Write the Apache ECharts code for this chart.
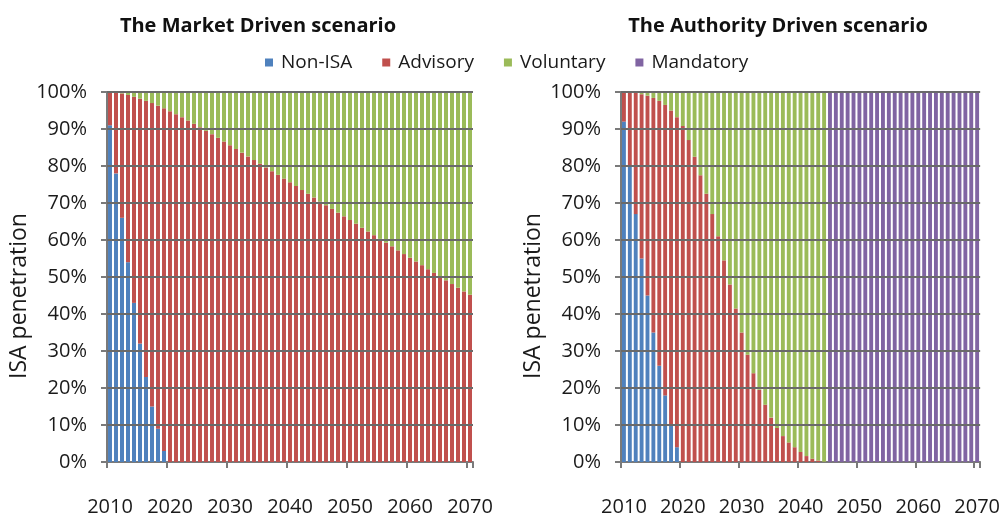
<!DOCTYPE html>
<html>
<head>
<meta charset="utf-8">
<script src="https://cdn.jsdelivr.net/npm/echarts@6/dist/echarts.min.js"></script>
<style>
  html, body { margin: 0; padding: 0; background: #fff; }
  #chartIsa { width: 1003px; height: 517px; }
</style>
</head>
<body>
<div id="chartIsa"></div>
<script>
// years on the x axis
var years = [
  '2010','2011','2012','2013','2014','2015','2016','2017','2018','2019',
  '2020','2021','2022','2023','2024','2025','2026','2027','2028','2029',
  '2030','2031','2032','2033','2034','2035','2036','2037','2038','2039',
  '2040','2041','2042','2043','2044','2045','2046','2047','2048','2049',
  '2050','2051','2052','2053','2054','2055','2056','2057','2058','2059',
  '2060','2061','2062','2063','2064','2065','2066','2067','2068','2069',
  '2070'
];
var legendNames = ['Non-ISA', 'Advisory', 'Voluntary', 'Mandatory'];
var yTicks = ['0%','10%','20%','30%','40%','50%','60%','70%','80%','90%','100%'];
var gridValues = [10, 20, 30, 40, 50, 60, 70, 80, 90, 100];

// The Market Driven scenario (percent of fleet)
var marketNonIsa = [
  91, 78, 66, 54, 43, 32, 23, 15, 9, 3,
  0, 0, 0, 0, 0, 0, 0, 0, 0, 0,
  0, 0, 0, 0, 0, 0, 0, 0, 0, 0,
  0, 0, 0, 0, 0, 0, 0, 0, 0, 0,
  0, 0, 0, 0, 0, 0, 0, 0, 0, 0,
  0, 0, 0, 0, 0, 0, 0, 0, 0, 0,
  0
];
var marketAdvisory = [
  9, 22, 33.6, 45.2, 55.7, 66.2, 74.6, 82, 87.3, 92.6,
  94.8, 94, 93.2, 92.3, 91.4, 90.5, 89.5, 88.6, 87.6, 86.6,
  85.6, 84.6, 83.6, 82.6, 81.6, 80.6, 79.6, 78.6, 77.6, 76.6,
  75.6, 74.6, 73.5, 72.5, 71.5, 70.4, 69.4, 68.4, 67.4, 66.4,
  65.4, 64.4, 63.3, 62.3, 61.3, 60.3, 59.3, 58.3, 57.2, 56.2,
  55.2, 54.2, 53.2, 52.1, 51.1, 50.1, 49.1, 48.1, 47.1, 46.1,
  45.2
];
var marketVoluntary = [
  0, 0, 0.4, 0.8, 1.3, 1.8, 2.4, 3, 3.7, 4.4,
  5.2, 6, 6.8, 7.7, 8.6, 9.5, 10.5, 11.4, 12.4, 13.4,
  14.4, 15.4, 16.4, 17.4, 18.4, 19.4, 20.4, 21.4, 22.4, 23.4,
  24.4, 25.4, 26.5, 27.5, 28.5, 29.6, 30.6, 31.6, 32.6, 33.6,
  34.6, 35.6, 36.7, 37.7, 38.7, 39.7, 40.7, 41.7, 42.8, 43.8,
  44.8, 45.8, 46.8, 47.9, 48.9, 49.9, 50.9, 51.9, 52.9, 53.9,
  54.8
];
var marketMandatory = [
  0, 0, 0, 0, 0, 0, 0, 0, 0, 0,
  0, 0, 0, 0, 0, 0, 0, 0, 0, 0,
  0, 0, 0, 0, 0, 0, 0, 0, 0, 0,
  0, 0, 0, 0, 0, 0, 0, 0, 0, 0,
  0, 0, 0, 0, 0, 0, 0, 0, 0, 0,
  0, 0, 0, 0, 0, 0, 0, 0, 0, 0,
  0
];

// The Authority Driven scenario
var authNonIsa = [
  92, 80, 67, 55, 45, 35, 26, 18, 10, 4,
  0, 0, 0, 0, 0, 0, 0, 0, 0, 0,
  0, 0, 0, 0, 0, 0, 0, 0, 0, 0,
  0, 0, 0, 0, 0, 0, 0, 0, 0, 0,
  0, 0, 0, 0, 0, 0, 0, 0, 0, 0,
  0, 0, 0, 0, 0, 0, 0, 0, 0, 0,
  0
];
var authAdvisory = [
  8, 20, 32.8, 44.4, 54, 63.4, 71.6, 78.5, 85, 89.2,
  90.8, 87, 82.5, 77.5, 72.5, 67, 61, 54.5, 48, 41.5,
  35, 29, 24, 19.5, 15.5, 12, 9.2, 7, 5.3, 4,
  2.7, 1.6, 0.9, 0.4, 0.1, 0, 0, 0, 0, 0,
  0, 0, 0, 0, 0, 0, 0, 0, 0, 0,
  0, 0, 0, 0, 0, 0, 0, 0, 0, 0,
  0
];
var authVoluntary = [
  0, 0, 0.2, 0.6, 1, 1.6, 2.4, 3.5, 5, 6.8,
  9.2, 13, 17.5, 22.5, 27.5, 33, 39, 45.5, 52, 58.5,
  65, 71, 76, 80.5, 84.5, 88, 90.8, 93, 94.7, 96,
  97.3, 98.4, 99.1, 99.6, 99.9, 0, 0, 0, 0, 0,
  0, 0, 0, 0, 0, 0, 0, 0, 0, 0,
  0, 0, 0, 0, 0, 0, 0, 0, 0, 0,
  0
];
var authMandatory = [
  0, 0, 0, 0, 0, 0, 0, 0, 0, 0,
  0, 0, 0, 0, 0, 0, 0, 0, 0, 0,
  0, 0, 0, 0, 0, 0, 0, 0, 0, 0,
  0, 0, 0, 0, 0, 100, 100, 100, 100, 100,
  100, 100, 100, 100, 100, 100, 100, 100, 100, 100,
  100, 100, 100, 100, 100, 100, 100, 100, 100, 100,
  100
];

var colors = ['#4F81BD', '#C0504D', '#9BBB59', '#8064A2'];
var fontName = '"Open Sans", "DejaVu Sans", sans-serif';
var axisGray = '#7A7A7A';
var gridGray = '#6A6A6A';

function makeX(gridIndex) {
  return {
    type: 'category',
    gridIndex: gridIndex,
    data: years,
    boundaryGap: true,
    axisLine: { show: true, lineStyle: { color: axisGray, width: 2 } },
    axisTick: { show: true, interval: 9, length: 6, lineStyle: { color: axisGray, width: 2 } },
    axisLabel: { interval: 9, margin: 35, color: '#1a1a1a', fontSize: 20, fontFamily: fontName },
    splitLine: { show: false }
  };
}

function makeY(gridIndex) {
  return {
    type: 'value',
    gridIndex: gridIndex,
    min: 0,
    max: 100,
    interval: 10,
    name: 'ISA penetration',
    nameLocation: 'middle',
    nameGap: 76,
    nameRotate: 90,
    nameTextStyle: { color: '#1a1a1a', fontSize: 23, fontFamily: fontName, padding: [0, 38, 0, 0] },
    axisLine: { show: true, lineStyle: { color: axisGray, width: 2 } },
    axisTick: { show: true, length: 6, lineStyle: { color: axisGray, width: 2 } },
    axisLabel: {
      margin: 20, color: '#1a1a1a', fontSize: 20, fontFamily: fontName,
      formatter: function (v) { return yTicks[Math.round(v / 10)]; }
    },
    splitLine: { show: true, lineStyle: { color: axisGray, width: 2 } }
  };
}

function makeBar(name, idx, data, colorIdx) {
  return {
    name: name,
    type: 'bar',
    z: 1,
    stack: 'isa' + idx,
    xAxisIndex: idx,
    yAxisIndex: idx,
    barCategoryGap: '34%',
    itemStyle: { color: colors[colorIdx] },
    data: data
  };
}

// gridlines in the reference sit on top of the bars:
// a custom series draws them last, through the axis scales
function gridOverlay(idx) {
  return {
    type: 'custom',
    xAxisIndex: idx,
    yAxisIndex: idx,
    z: 50,
    silent: true,
    clip: false,
    legendHoverLink: false,
    tooltip: { show: false },
    data: gridValues.map(function (v) { return [0, v]; }),
    renderItem: function (params, api) {
      var y = api.coord([0, api.value(1)])[1];
      var box = params.coordSys;
      return {
        type: 'line',
        z2: 100,
        shape: { x1: box.x, y1: y, x2: box.x + box.width, y2: y },
        style: { stroke: gridGray, lineWidth: 2 }
      };
    }
  };
}

var myChart = echarts.init(document.getElementById('chartIsa'));
var option = {
  backgroundColor: '#fff',
  animation: false,
  color: colors,
  title: [
    {
      text: 'The Market Driven scenario',
      left: 253, top: 11, textAlign: 'center',
      textStyle: { color: '#111', fontSize: 20, fontWeight: 'bold', fontFamily: fontName }
    },
    {
      text: 'The Authority Driven scenario',
      left: 773, top: 11, textAlign: 'center',
      textStyle: { color: '#111', fontSize: 20, fontWeight: 'bold', fontFamily: fontName }
    }
  ],
  legend: {
    data: legendNames,
    left: 260,
    top: 48,
    itemWidth: 8,
    itemHeight: 8,
    itemGap: 30,
    icon: 'rect',
    textStyle: { color: '#1a1a1a', fontSize: 19, fontFamily: fontName, padding: [0, 0, 0, 3] }
  },
  grid: [
    { left: 107, top: 92, width: 366, height: 370 },
    { left: 621, top: 92, width: 360, height: 370 }
  ],
  xAxis: [makeX(0), makeX(1)],
  yAxis: [makeY(0), makeY(1)],
  series: [
    makeBar('Non-ISA', 0, marketNonIsa, 0),
    makeBar('Advisory', 0, marketAdvisory, 1),
    makeBar('Voluntary', 0, marketVoluntary, 2),
    makeBar('Mandatory', 0, marketMandatory, 3),
    makeBar('Non-ISA', 1, authNonIsa, 0),
    makeBar('Advisory', 1, authAdvisory, 1),
    makeBar('Voluntary', 1, authVoluntary, 2),
    makeBar('Mandatory', 1, authMandatory, 3),
    gridOverlay(0),
    gridOverlay(1)
  ]
};
myChart.setOption(option);
</script>
</body>
</html>
